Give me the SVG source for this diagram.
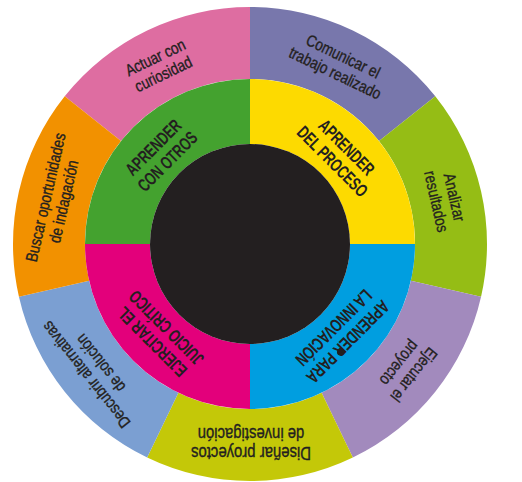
<svg xmlns="http://www.w3.org/2000/svg" width="522" height="482" viewBox="0 0 522 482">
<style>
.o{font-family:"Liberation Sans",Arial,sans-serif;font-size:16.5px;fill:#231F20;stroke:#231F20;stroke-width:0.35px;text-anchor:middle}
.d{font-size:17.5px}
.i{font-family:"Liberation Sans",Arial,sans-serif;font-size:18px;font-weight:bold;fill:#231F20;text-anchor:middle}
</style>
<rect width="522" height="482" fill="#ffffff"/>
<g id="seg-actuar">
<path d="M64.71,96.23 A237,237 0 0 1 250,7 L250,79 A165,165 0 0 0 121,141.12 Z" fill="#DE6DA1"/>
<g transform="translate(159.5,66) rotate(-25.714) scale(0.82,1)"><text class="o" x="0" y="-4">Actuar con</text><text class="o" x="0" y="14.5">curiosidad</text></g>
</g>
<g id="seg-comunicar">
<path d="M250,7 A237,237 0 0 1 435.29,96.23 L379,141.12 A165,165 0 0 0 250,79 Z" fill="#7877AC"/>
<g transform="translate(339,65) rotate(25.714) scale(0.82,1)"><text class="o" x="0" y="-4">Comunicar el</text><text class="o" x="0" y="14.5">trabajo realizado</text></g>
</g>
<g id="seg-analizar">
<path d="M435.29,96.23 A237,237 0 0 1 481.06,296.74 L410.86,280.72 A165,165 0 0 0 379,141.12 Z" fill="#95BD15"/>
<g transform="translate(445,199.5) rotate(77.143) scale(0.82,1)"><text class="o" x="0" y="-4">Analizar</text><text class="o" x="0" y="14.5">resultados</text></g>
</g>
<g id="seg-ejecutar">
<path d="M481.06,296.74 A237,237 0 0 1 352.83,457.53 L321.59,392.66 A165,165 0 0 0 410.86,280.72 Z" fill="#A28ABD"/>
<g transform="translate(406.4,368.7) rotate(128.571) scale(0.82,1)"><text class="o" x="0" y="-4">Ejecutar el</text><text class="o" x="0" y="14.5">proyecto</text></g>
</g>
<g id="seg-disenar">
<path d="M352.83,457.53 A237,237 0 0 1 147.17,457.53 L178.41,392.66 A165,165 0 0 0 321.59,392.66 Z" fill="#C4C808"/>
<g transform="translate(251,443) rotate(180) scale(0.85,1)"><text class="o d" x="0" y="-4.5">Diseñar proyectos</text><text class="o d" x="0" y="14.5">de investigación</text></g>
</g>
<g id="seg-descubrir">
<path d="M147.17,457.53 A237,237 0 0 1 18.94,296.74 L89.14,280.72 A165,165 0 0 0 178.41,392.66 Z" fill="#7B9FD2"/>
<g transform="translate(93.6,368.7) rotate(231.429) scale(0.82,1)"><text class="o" x="0" y="-4">Descubrir alternativas</text><text class="o" x="0" y="14.5">de solución</text></g>
</g>
<g id="seg-buscar">
<path d="M18.94,296.74 A237,237 0 0 1 64.71,96.23 L121,141.12 A165,165 0 0 0 89.14,280.72 Z" fill="#F29100"/>
<g transform="translate(55,199.5) rotate(-77.143) scale(0.82,1)"><text class="o" x="0" y="-4">Buscar oportunidades</text><text class="o" x="0" y="14.5">de indagación</text></g>
</g>
<g id="q-otros">
<path d="M85,244 A165,165 0 0 1 250,79 L250,144 A100,100 0 0 0 150,244 Z" fill="#44A22F"/>
<g transform="translate(160.2,154.2) rotate(-45) scale(0.7,1)"><text class="i" x="0" y="-3.5">APRENDER</text><text class="i" x="0" y="16.5">CON OTROS</text></g>
</g>
<g id="q-proceso">
<path d="M250,79 A165,165 0 0 1 415,244 L350,244 A100,100 0 0 0 250,144 Z" fill="#FDDA00"/>
<g transform="translate(339.8,154.2) rotate(45) scale(0.7,1)"><text class="i" x="0" y="-3.5">APRENDER</text><text class="i" x="0" y="16.5">DEL PROCESO</text></g>
</g>
<g id="q-innovacion">
<path d="M415,244 A165,165 0 0 1 250,409 L250,344 A100,100 0 0 0 350,244 Z" fill="#009EE0"/>
<g transform="translate(341,335) rotate(135) scale(0.7,1)"><text class="i" x="0" y="-3.5">APRENDER PARA</text><text class="i" x="0" y="16.5">LA INNOVACIÓN</text></g>
<circle cx="340.5" cy="352" r="3.5" fill="#231F20"/>
</g>
<g id="q-critico">
<path d="M250,409 A165,165 0 0 1 85,244 L150,244 A100,100 0 0 0 250,344 Z" fill="#E3007B"/>
<g transform="translate(159,335) rotate(225) scale(0.7,1)"><text class="i" x="0" y="-3.5">EJERCITAR EL</text><text class="i" x="0" y="16.5">JUICIO CRÍTICO</text></g>
</g>
<g id="center">
<circle cx="250" cy="244" r="100" fill="#231F20"/>
</g>
<g id="connectors"></g>
</svg>
